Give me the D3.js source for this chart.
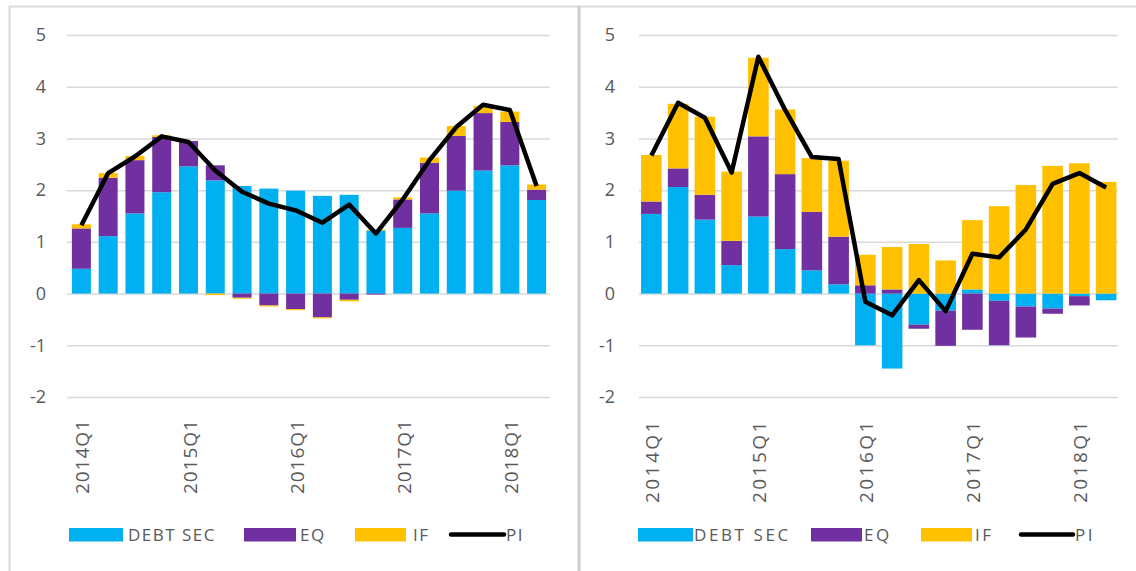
<!DOCTYPE html>
<html>
<head>
<meta charset="utf-8">
<script src="https://cdn.jsdelivr.net/npm/d3@7"></script>
<style>
  body { margin: 0; background: #fff; }
  svg { display: block; font-family: "Open Sans", sans-serif; }
</style>
</head>
<body>
<svg id="chart" width="1136" height="571"></svg>
<script>
// quarters on the x axis
let quarters = ["2014Q1", "2014Q2", "2014Q3", "2014Q4", "2015Q1", "2015Q2", "2015Q3", "2015Q4",
    "2016Q1", "2016Q2", "2016Q3", "2016Q4", "2017Q1", "2017Q2", "2017Q3", "2017Q4",
    "2018Q1", "2018Q2"];
let tickQuarters = ["2014Q1", "2015Q1", "2016Q1", "2017Q1", "2018Q1"];
let yTicks = [-2, -1, 0, 1, 2, 3, 4, 5];

// left panel
let leftDebt = [0.48, 1.11, 1.55, 1.96, 2.46, 2.19, 2.08, 2.03, 1.99, 1.89, 1.91, 1.22, 1.27, 1.55, 1.99, 2.38, 2.48, 1.81];
let leftEq = [0.78, 1.13, 1.03, 1.07, 0.49, 0.29, -0.08, -0.23, -0.30, -0.46, -0.12, -0.02, 0.55, 0.98, 1.06, 1.11, 0.84, 0.20];
let leftIf = [0.08, 0.09, 0.08, 0.03, 0.00, -0.03, -0.02, -0.02, -0.02, -0.02, -0.03, 0.02, 0.04, 0.10, 0.19, 0.14, 0.20, 0.10];
let leftPi = [1.32, 2.33, 2.65, 3.04, 2.93, 2.38, 1.97, 1.74, 1.61, 1.37, 1.72, 1.16, 1.82, 2.58, 3.22, 3.65, 3.55, 2.08];

// right panel
let rightDebt = [1.54, 2.06, 1.43, 0.55, 1.49, 0.86, 0.45, 0.18, -1.00, -1.45, -0.60, -0.33, 0.08, -0.14, -0.25, -0.29, -0.05, -0.13];
let rightEq = [0.24, 0.36, 0.48, 0.47, 1.55, 1.45, 1.13, 0.92, 0.16, 0.08, -0.08, -0.68, -0.70, -0.86, -0.60, -0.10, -0.18, 0.00];
let rightIf = [0.90, 1.25, 1.51, 1.34, 1.52, 1.25, 1.04, 1.47, 0.59, 0.82, 0.96, 0.64, 1.34, 1.69, 2.10, 2.47, 2.52, 2.16];
let rightPi = [2.67, 3.69, 3.40, 2.34, 4.58, 3.55, 2.64, 2.60, -0.16, -0.42, 0.26, -0.34, 0.77, 0.70, 1.24, 2.12, 2.33, 2.05];

let seriesNames = ["DEBT SEC", "EQ", "IF", "PI"];
let colors = { debt: "#00B0F0", eq: "#7030A0", if: "#FFC000", pi: "#000000" };

let svg = d3.select("#chart");
svg.append("rect").attr("width", 1136).attr("height", 571).attr("fill", "#fff");

function drawPanel(opt) {
    let g = svg.append("g");

    let rows = quarters.map((q, i) => ({ q: q, debt: opt.debt[i], eq: opt.eq[i], if: opt.inv[i] }));

    let x = d3.scaleBand()
        .domain(quarters)
        .range([opt.x0, opt.x1])
        .paddingInner(opt.pad)
        .paddingOuter(opt.pad / 2);

    let y = d3.scaleLinear()
        .domain([-2, 5])
        .range([397, 35]);

    // gridlines + y labels
    let yAxis = g.append("g")
        .attr("transform", `translate(${opt.gx0},0)`)
        .call(d3.axisLeft(y)
            .tickValues(yTicks)
            .tickFormat(d => String(d))
            .tickSize(-(opt.gx1 - opt.gx0))
            .tickPadding(opt.tickPad));
    yAxis.select(".domain").remove();
    yAxis.selectAll("line").attr("stroke", "#d9d9d9").attr("stroke-width", 1.5);
    yAxis.selectAll("text")
        .attr("fill", "#595959")
        .style("font-size", "18px")
        .style("font-family", "Open Sans");

    // stacked bars
    let stack = d3.stack()
        .keys(["debt", "eq", "if"])
        .offset(d3.stackOffsetDiverging);
    let layers = stack(rows);

    g.selectAll(".layer")
        .data(layers)
        .enter()
        .append("g")
        .attr("fill", d => colors[d.key])
        .selectAll("rect")
        .data(d => d)
        .enter()
        .append("rect")
        .attr("x", d => x(d.data.q))
        .attr("width", x.bandwidth())
        .attr("y", d => y(Math.max(d[0], d[1])))
        .attr("height", d => Math.abs(y(d[0]) - y(d[1])));

    // PI line
    let line = d3.line()
        .x((d, i) => x(quarters[i]) + x.bandwidth() / 2)
        .y(d => y(d));
    g.append("path")
        .datum(opt.pi)
        .attr("fill", "none")
        .attr("stroke", colors.pi)
        .attr("stroke-width", 4.5)
        .attr("stroke-linejoin", "round")
        .attr("d", line);

    // x labels, rotated
    g.selectAll(".xlab")
        .data(tickQuarters)
        .enter()
        .append("text")
        .attr("transform", d => `translate(${x(d) + x.bandwidth() / 2 + 1},419) rotate(-90)`)
        .attr("text-anchor", "end")
        .attr("dominant-baseline", "central")
        .attr("fill", "#595959")
        .style("font-size", "19px")
        .style("letter-spacing", opt.spacing + "px")
        .text(d => d);

    // legend
    let lg = g.append("g");
    opt.legend.forEach((it, i) => {
        let key = ["debt", "eq", "if", "pi"][i];
        if (key === "pi") {
            lg.append("line")
                .attr("x1", it[0]).attr("x2", it[1])
                .attr("y1", 534.5).attr("y2", 534.5)
                .attr("stroke", "#000").attr("stroke-width", 4.5)
                .attr("stroke-linecap", "round");
        } else {
            lg.append("rect")
                .attr("x", it[0]).attr("y", 528)
                .attr("width", it[1] - it[0]).attr("height", 13.5)
                .attr("fill", colors[key]);
        }
        lg.append("text")
            .attr("x", it[2])
            .attr("y", 534.5)
            .attr("dominant-baseline", "central")
            .attr("fill", "#595959")
            .style("font-size", "17px")
            .style("letter-spacing", opt.legendSpacing + "px")
            .text(seriesNames[i]);
    });
}

drawPanel({
    debt: leftDebt, eq: leftEq, inv: leftIf, pi: leftPi,
    x0: 68, x1: 550, pad: 0.29, gx0: 67, gx1: 550, tickPad: 21, spacing: 1,
    legend: [[69, 123, 128], [244, 296, 300], [355, 406, 413], [451, 504, 506]],
    legendSpacing: 1.5
});

drawPanel({
    debt: rightDebt, eq: rightEq, inv: rightIf, pi: rightPi,
    x0: 638, x1: 1119.5, pad: 0.23, gx0: 639, gx1: 1118, tickPad: 24, spacing: 2.5,
    legend: [[638, 693, 694], [811, 862, 864], [921, 972, 975], [1021, 1073, 1075]],
    legendSpacing: 2.6
});

// panel frames
svg.append("line").attr("x1", 9).attr("x2", 1136).attr("y1", 6.5).attr("y2", 6.5)
    .attr("stroke", "#d9d9d9").attr("stroke-width", 2);
svg.append("line").attr("x1", 9.5).attr("x2", 9.5).attr("y1", 6).attr("y2", 571)
    .attr("stroke", "#d9d9d9").attr("stroke-width", 2);
svg.append("line").attr("x1", 579).attr("x2", 579).attr("y1", 6).attr("y2", 571)
    .attr("stroke", "#d0d0d0").attr("stroke-width", 3);
</script>
</body>
</html>
